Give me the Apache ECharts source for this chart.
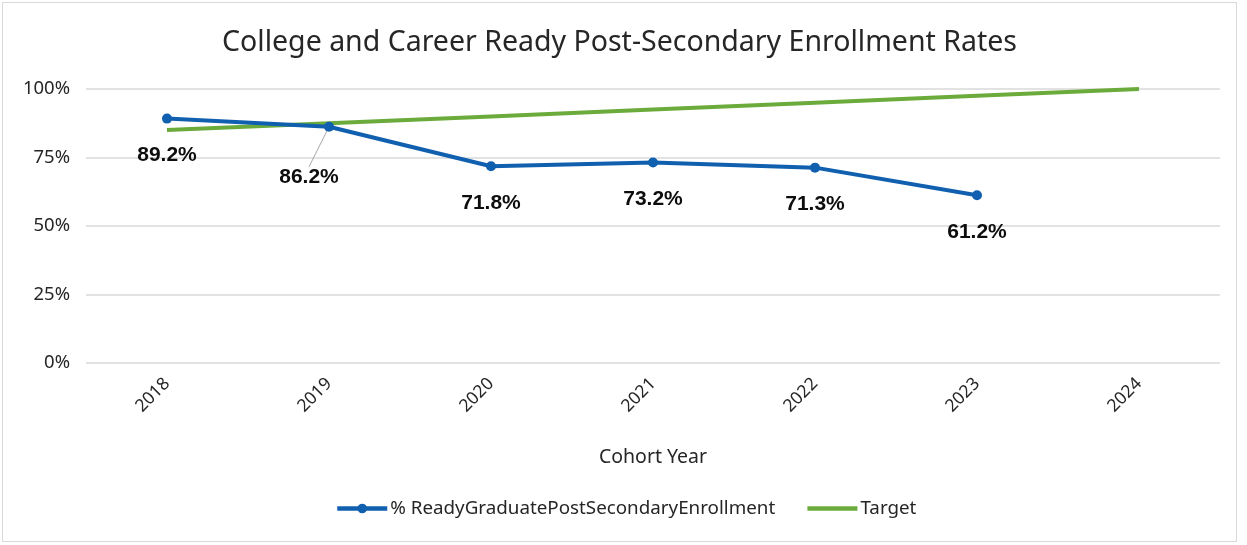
<!DOCTYPE html>
<html>
<head>
<meta charset="utf-8">
<script src="https://cdn.jsdelivr.net/npm/echarts@6/dist/echarts.min.js"></script>
<style>
  html, body { margin: 0; padding: 0; background: #fff; }
  #mychart { position: absolute; left: 2px; top: 2px; width: 1235px; height: 540px; border: 1px solid #d9d9d9; box-sizing: border-box; }
</style>
</head>
<body>
<div id="mychart"></div>
<script>
// 横坐标
var years = ['2018', '2019', '2020', '2021', '2022', '2023', '2024'];
// % ready graduates enrolled post-secondary
var readyData = [89.2, 86.2, 71.8, 73.2, 71.3, 61.2];
// target line
var targetData = [85, 87.5, 90, 92.5, 95, 97.5, 100];
var yTicks = [0, 25, 50, 75, 100];

var fontName = '"Noto Sans", "Liberation Sans", sans-serif';

var myChart = echarts.init(document.getElementById('mychart'));
var option = {
  animation: false,
  title: {
    text: 'College and Career Ready Post-Secondary Enrollment Rates',
    left: 'center',
    top: 20,
    textStyle: { fontFamily: fontName, fontSize: 28.5, fontWeight: 'normal', color: '#262626' }
  },
  grid: { left: 83, right: 16, top: 86, bottom: 178 },
  legend: {
    bottom: 18,
    left: 327,
    itemWidth: 50,
    itemHeight: 12,
    itemGap: 30,
    lineStyle: { width: 4.5 },
    textStyle: { fontFamily: fontName, fontSize: 18.8, color: '#262626', padding: [0, 0, 0, -2] },
    data: [
      { name: '% ReadyGraduatePostSecondaryEnrollment' },
      { name: 'Target', itemStyle: { opacity: 0 } }
    ]
  },
  xAxis: {
    type: 'category',
    data: years,
    boundaryGap: true,
    name: 'Cohort Year',
    nameLocation: 'middle',
    nameGap: 84,
    nameTextStyle: { fontFamily: fontName, fontSize: 19.5, color: '#262626' },
    axisLine: { show: false },
    axisTick: { show: false },
    axisLabel: { rotate: 45, margin: 18, fontFamily: fontName, fontSize: 17.5, color: '#262626' }
  },
  yAxis: {
    type: 'value',
    min: yTicks[0],
    max: yTicks[yTicks.length - 1],
    interval: 25,
    axisLine: { show: false },
    axisTick: { show: false },
    splitLine: { lineStyle: { color: '#d9d9d9', width: 1.5 } },
    axisLabel: { formatter: '{value}%', margin: 16, fontFamily: fontName, fontSize: 18.5, color: '#262626' }
  },
  series: [
    {
      name: '% ReadyGraduatePostSecondaryEnrollment',
      type: 'line',
      data: readyData.map(function (v, i) {
        // only the 2019 label is pulled aside with a leader line
        return i === 1 ? { value: v, labelLine: { show: true } } : v;
      }),
      z: 3,
      color: '#1160B0',
      symbol: 'circle',
      symbolSize: 10,
      lineStyle: { width: 4, color: '#1160B0' },
      label: {
        show: true,
        position: 'bottom',
        distance: 21,
        formatter: function (p) { return p.value.toFixed(1) + '%'; },
        fontFamily: '"Liberation Sans", Arial, sans-serif',
        fontSize: 21,
        fontWeight: 'bold',
        color: '#0d0d0d'
      },
      labelLine: { show: false, lineStyle: { color: '#a6a6a6', width: 1 } },
      labelLayout: function (p) {
        if (p.dataIndex === 1) return { dx: -20, dy: 14 };
        return {};
      }
    },
    {
      name: 'Target',
      type: 'line',
      data: targetData,
      z: 2,
      color: '#6AAB3C',
      symbol: 'none',
      lineStyle: { width: 4, color: '#6AAB3C' }
    }
  ]
};
myChart.setOption(option);
window.addEventListener('resize', function () { myChart.resize(); });
</script>
</body>
</html>
